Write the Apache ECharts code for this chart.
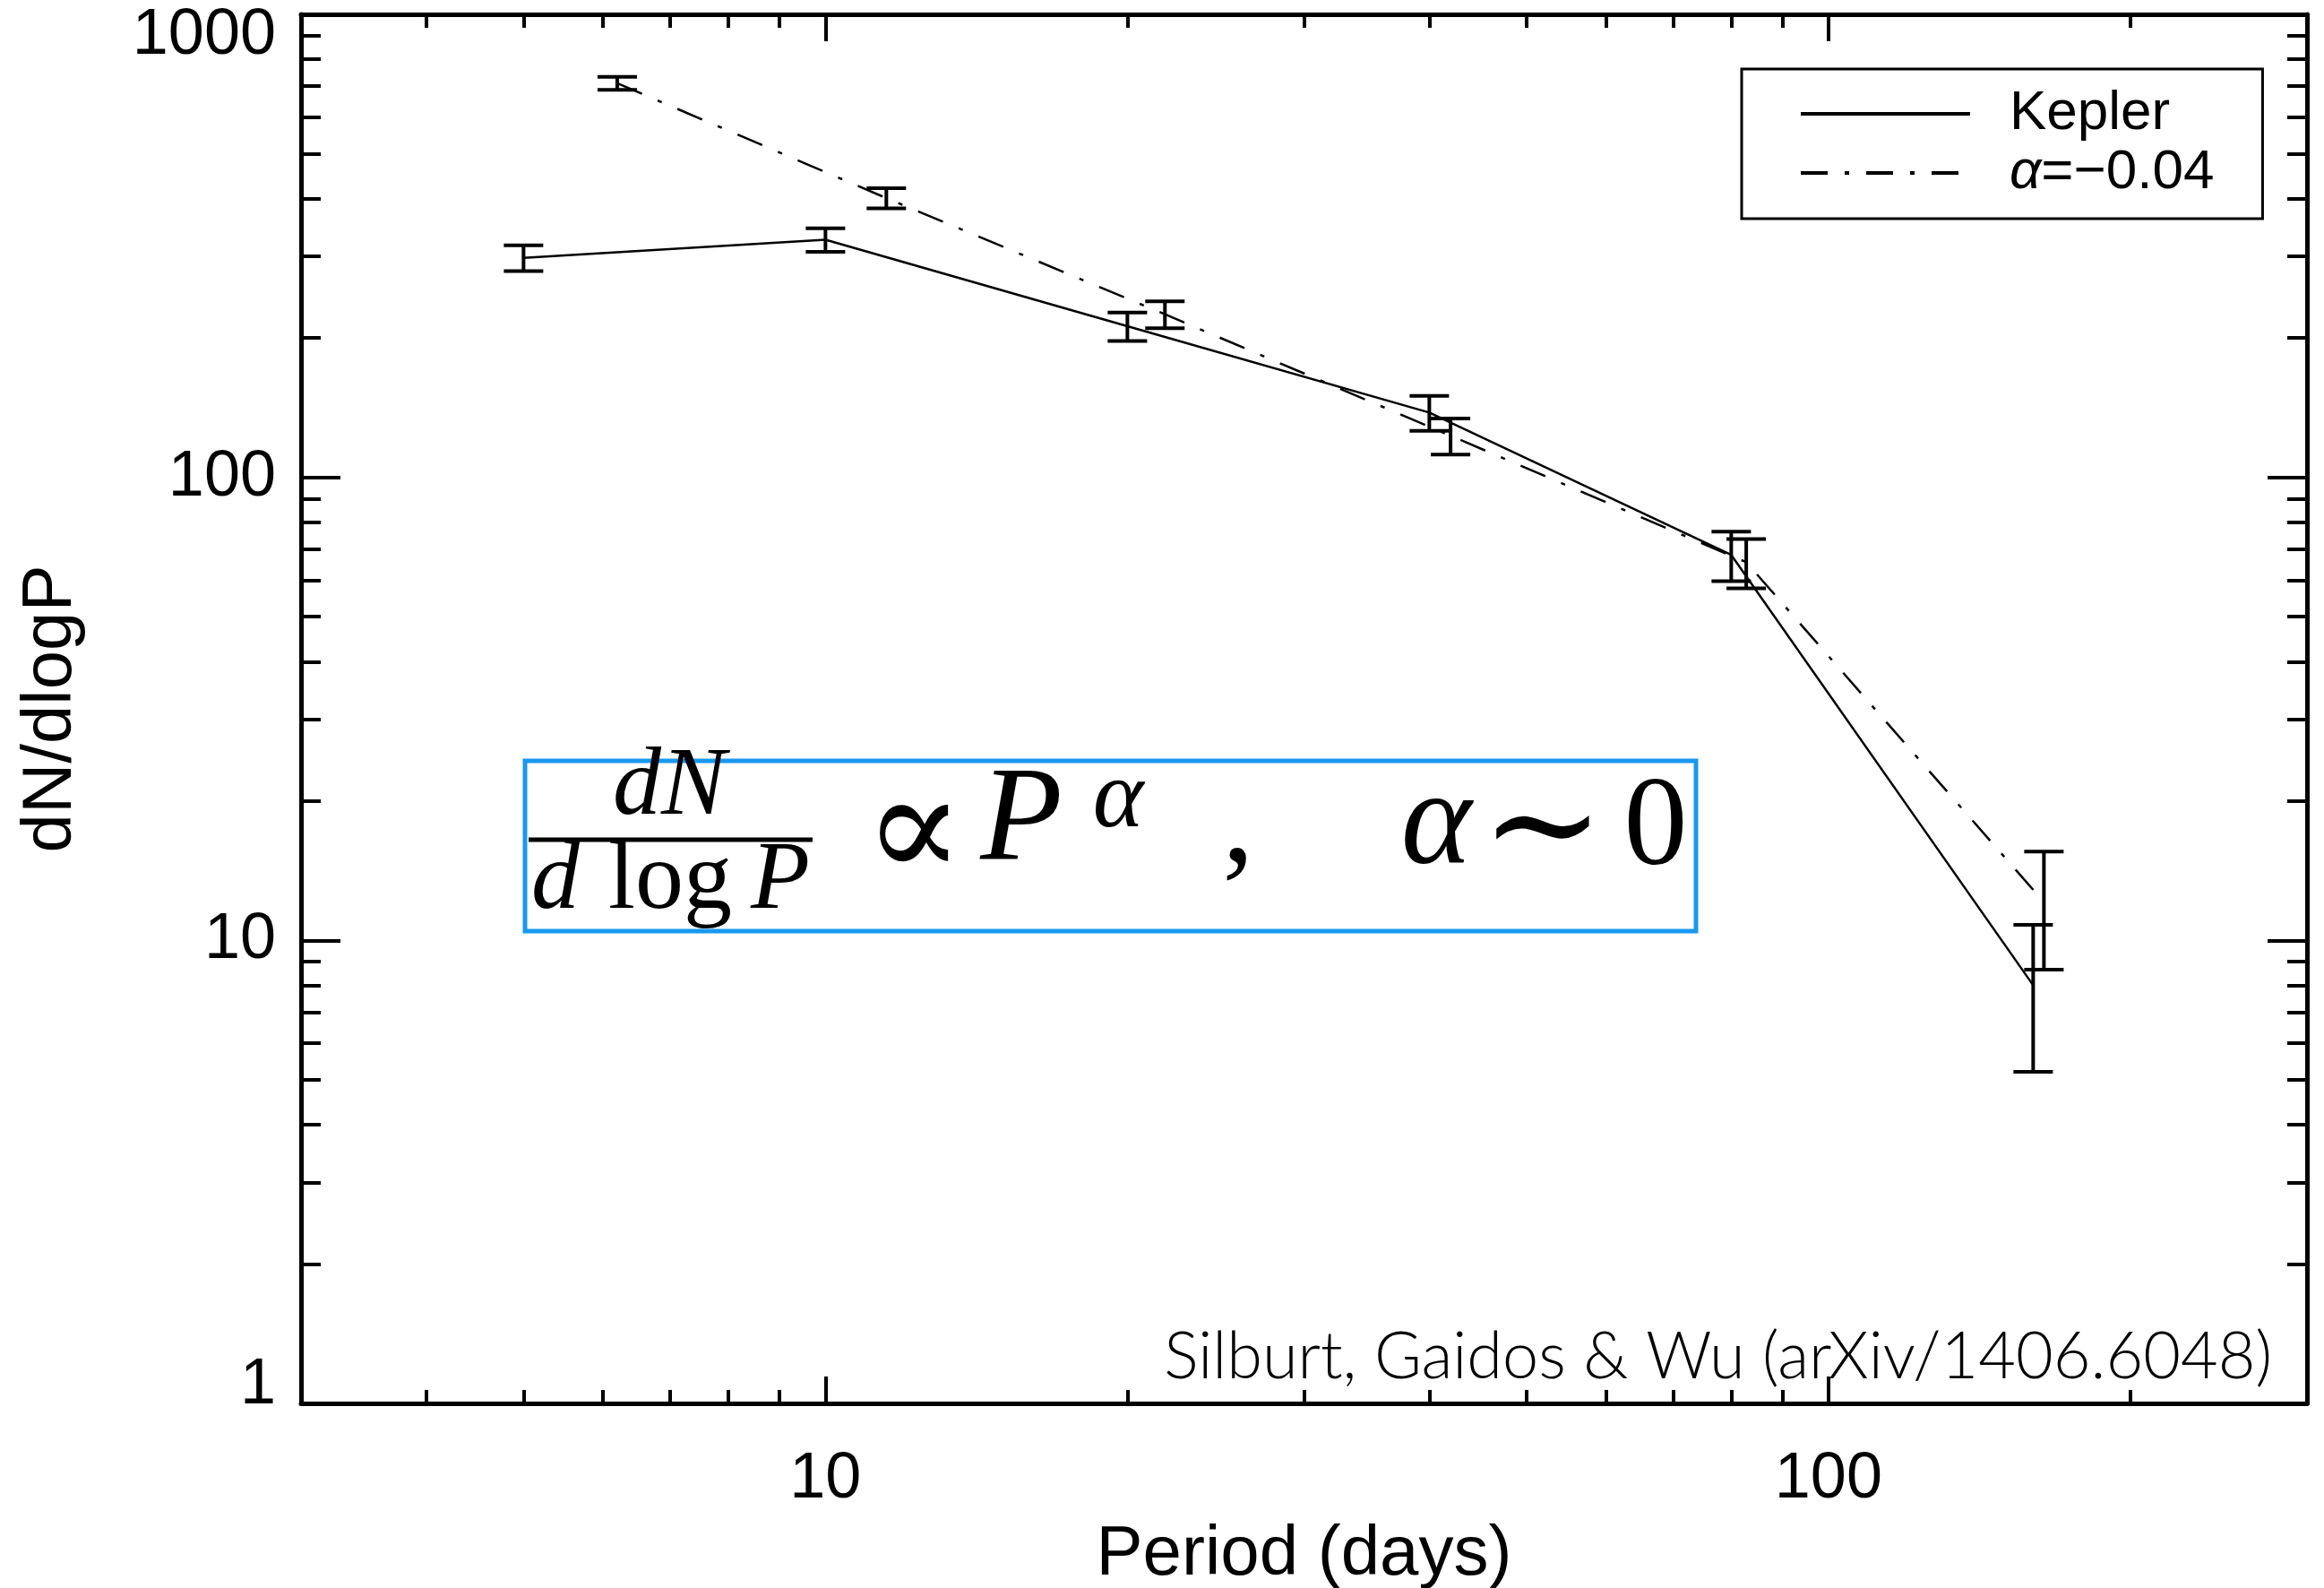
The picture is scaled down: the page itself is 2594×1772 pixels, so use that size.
<!DOCTYPE html>
<html><head><meta charset="utf-8">
<script src="https://cdn.jsdelivr.net/npm/echarts@6/dist/echarts.min.js"></script>
<style>html,body{margin:0;padding:0;background:#fff}#c{width:2594px;height:1772px}</style>
</head><body><div id="c"></div>
<script>
// ---- data ----
const keplerPeriod = [5, 10, 20, 40, 80, 160];
const keplerValue  = [298, 326, 212, 138, 68, 8.0];
const keplerError  = [19, 19, 15, 12, 8.3, 2.8];
const alphaPeriod  = [6.2, 11.5, 21.8, 42, 82.8, 164];
const alphaValue   = [710, 401, 225, 123, 65.6, 12.1];
const alphaError   = [23, 20, 15, 11, 8, 3.45];
const xMajorTicks = [10, 100];
const xMinorTicks = [4, 5, 6, 7, 8, 9, 20, 30, 40, 50, 60, 70, 80, 90, 200];
const yMajorTicks = [1, 10, 100, 1000];
const yMinorTicks = [2, 3, 4, 5, 6, 7, 8, 9, 20, 30, 40, 50, 60, 70, 80, 90, 200, 300, 400, 500, 600, 700, 800, 900];
const seriesNames = ['Kepler', 'α=−0.04'];

const LABEL_FONT = 'Liberation Sans';
const DASHDOT = [30, 19, 5, 19];

function xAxisDef(pos, ticks, len, major, labels) {
  return {
    type: 'log', logBase: 10, min: 3, max: 300, position: pos,
    axisLine: { show: major, onZero: false, lineStyle: { color: '#000', width: 5 } },
    axisTick: { show: true, inside: true, length: len, customValues: ticks, lineStyle: { color: '#000', width: 4 } },
    axisLabel: labels ? {
      show: true, customValues: xMajorTicks, margin: 49, color: '#000',
      fontSize: 72, fontFamily: LABEL_FONT,
      formatter: v => String(Math.round(v))
    } : { show: false },
    splitLine: { show: false }, minorTick: { show: false }, minorSplitLine: { show: false },
    name: labels ? 'Period (days)' : '', nameLocation: 'middle', nameGap: 130,
    nameTextStyle: { fontSize: 78, fontFamily: LABEL_FONT, color: '#000' }
  };
}
function yAxisDef(pos, ticks, len, major, labels) {
  return {
    type: 'log', logBase: 10, min: 1, max: 1000, position: pos,
    axisLine: { show: major, onZero: false, lineStyle: { color: '#000', width: 5 } },
    axisTick: { show: true, inside: true, length: len, customValues: ticks, lineStyle: { color: '#000', width: 4 } },
    axisLabel: labels ? {
      show: true, customValues: yMajorTicks, margin: 28, color: '#000',
      fontSize: 72, fontFamily: LABEL_FONT,
      formatter: v => {
        const r = Math.round(v);
        if (r === 1000) return '{t|' + r + '}';
        if (r === 1) return '{b|' + r + '}';
        return '{n|' + r + '}';
      },
      rich: {
        t: { fontSize: 72, fontFamily: LABEL_FONT, color: '#000', padding: [48, 0, 0, 0] },
        b: { fontSize: 72, fontFamily: LABEL_FONT, color: '#000', padding: [0, 0, 40, 0] },
        n: { fontSize: 72, fontFamily: LABEL_FONT, color: '#000' }
      }
    } : { show: false },
    splitLine: { show: false }, minorTick: { show: false }, minorSplitLine: { show: false },
    name: labels ? 'dN/dlogP' : '', nameLocation: 'middle', nameGap: 240,
    nameTextStyle: { fontSize: 78, fontFamily: LABEL_FONT, color: '#000' }
  };
}

function renderErr(params, api) {
  const x = api.value(0), y = api.value(1), e = api.value(2);
  const lo = api.coord([x, y - e]);
  const hi = api.coord([x, y + e]);
  const hw = 22;
  const st = { stroke: '#000', lineWidth: 4 };
  return { type: 'group', children: [
    { type: 'line', shape: { x1: lo[0], y1: lo[1], x2: hi[0], y2: hi[1] }, style: st },
    { type: 'line', shape: { x1: lo[0] - hw, y1: lo[1], x2: lo[0] + hw, y2: lo[1] }, style: st },
    { type: 'line', shape: { x1: hi[0] - hw, y1: hi[1], x2: hi[0] + hw, y2: hi[1] }, style: st }
  ]};
}

function txt(text, x, y, font, align) {
  return { type: 'text', z: 50, style: {
    text: text, x: x, y: y, font: font, fill: '#000',
    align: align || 'center', textAlign: align || 'center',
    verticalAlign: 'middle', textVerticalAlign: 'middle'
  }};
}
const SERIF = '"Liberation Serif", "DejaVu Serif", serif';
const MAINI = 'italic 150px ' + SERIF;
const MAINR = '142px ' + SERIF;
const SYM = '165px ' + SERIF;
const SMALLI = 'italic 108px ' + SERIF;
const SMALLR = '108px ' + SERIF;

const chart = echarts.init(document.getElementById('c'), null, { renderer: 'canvas' });
chart.setOption({
  animation: false,
  backgroundColor: '#fff',
  grid: { left: 336, right: 19, top: 16, bottom: 206, containLabel: false, outerBoundsMode: 'none' },
  legend: {
    show: true, orient: 'vertical', left: 1944, top: 77,
    padding: [19, 54, 20, 64], itemGap: 4, itemWidth: 189, itemHeight: 58,
    borderColor: '#000', borderWidth: 3, selectedMode: false,
    itemStyle: { color: 'rgba(0,0,0,0)', borderWidth: 0, opacity: 0 },
    data: [
      { name: seriesNames[0], lineStyle: { color: '#000', width: 4, type: 'solid' } },
      { name: seriesNames[1], lineStyle: { color: '#000', width: 4, type: DASHDOT } }
    ],
    formatter: n => n.charAt(0) === 'α' ? '{i|α}{r|' + n.slice(1) + '}' : '{r|' + n + '}',
    textStyle: {
      fontSize: 60, fontFamily: LABEL_FONT, color: '#000', padding: [0, 0, 0, 39],
      rich: {
        i: { fontSize: 62, fontFamily: LABEL_FONT, fontStyle: 'italic', color: '#000' },
        r: { fontSize: 62, fontFamily: LABEL_FONT, color: '#000' }
      }
    }
  },
  xAxis: [
    xAxisDef('bottom', xMajorTicks, 30, true, true),
    xAxisDef('bottom', xMinorTicks, 15, false, false),
    xAxisDef('top', xMajorTicks, 30, true, false),
    xAxisDef('top', xMinorTicks, 15, false, false)
  ],
  yAxis: [
    yAxisDef('left', yMajorTicks, 44, true, true),
    yAxisDef('left', yMinorTicks, 22, false, false),
    yAxisDef('right', yMajorTicks, 44, true, false),
    yAxisDef('right', yMinorTicks, 22, false, false)
  ],
  series: [
    { type: 'line', name: seriesNames[0], xAxisIndex: 0, yAxisIndex: 0,
      data: keplerPeriod.map((p, i) => [p, keplerValue[i]]),
      symbol: 'none', showSymbol: false, silent: true,
      lineStyle: { color: '#000', width: 2.5, type: 'solid' }, itemStyle: { color: '#000' }, z: 3 },
    { type: 'line', name: seriesNames[1], xAxisIndex: 0, yAxisIndex: 0,
      data: alphaPeriod.map((p, i) => [p, alphaValue[i]]),
      symbol: 'none', showSymbol: false, silent: true,
      lineStyle: { color: '#000', width: 2.5, type: DASHDOT }, itemStyle: { color: '#000' }, z: 3 },
    { type: 'custom', name: 'Kepler err', xAxisIndex: 0, yAxisIndex: 0, renderItem: renderErr,
      data: keplerPeriod.map((p, i) => [p, keplerValue[i], keplerError[i]]), encode: { x: 0, y: 1 }, z: 4, silent: true },
    { type: 'custom', name: 'alpha err', xAxisIndex: 0, yAxisIndex: 0, renderItem: renderErr,
      data: alphaPeriod.map((p, i) => [p, alphaValue[i], alphaError[i]]), encode: { x: 0, y: 1 }, z: 4, silent: true }
  ],
  graphic: [
    { type: 'rect', z: 40, shape: { x: 586, y: 849, width: 1307, height: 190 },
      style: { fill: 'rgba(0,0,0,0)', stroke: '#1a98f0', lineWidth: 5 } },
    { type: 'line', z: 50, shape: { x1: 590, y1: 937, x2: 907, y2: 937 }, style: { stroke: '#000', lineWidth: 5 } },
    txt('dN', 747, 880, SMALLI),
    txt('d', 620, 985, SMALLI),
    txt('log', 748, 985, SMALLR),
    txt('P', 871, 985, SMALLI),
    txt('∝', 1020, 936, SYM),
    txt('P', 1140, 920, MAINI),
    txt('α', 1248, 894, SMALLI),
    txt(',', 1382, 924, MAINR),
    txt('α', 1603, 924, MAINI),
    txt('∼', 1722, 932, SYM),
    txt('0', 1848, 927, MAINR),
    txt('Silburt, Gaidos & Wu (arXiv/1406.6048)', 2536, 1515, '300 72px Lato, "Open Sans", sans-serif', 'right')
  ]
});
</script></body></html>
